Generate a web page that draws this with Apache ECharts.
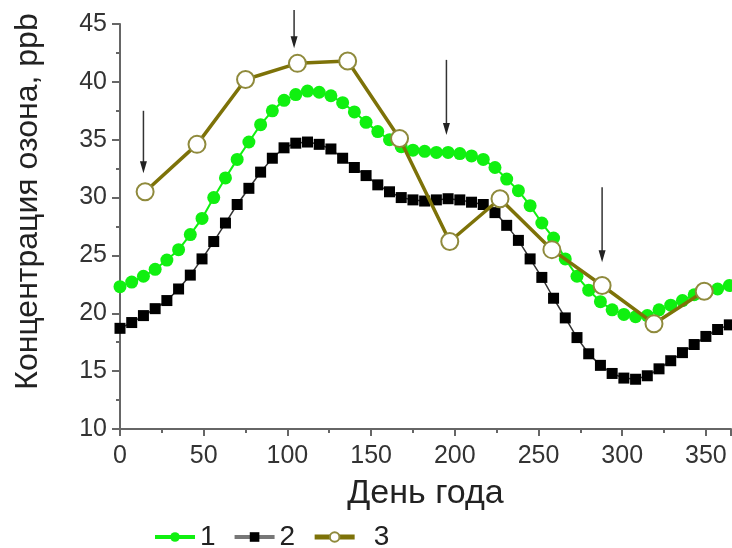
<!DOCTYPE html>
<html>
<head>
<meta charset="utf-8">
<style>html,body{margin:0;padding:0;background:#fff;}#c{width:732px;height:548px;}</style>
<script src="https://cdn.jsdelivr.net/npm/echarts@6/dist/echarts.min.js"></script>
</head>
<body>
<div id="c"></div>
<script>
const weekDays = [0,7,14,21,28,35,42,49,56,63,70,77,84,91,98,105,112,119,126,133,140,147,154,161,168,175,182,189,196,203,210,217,224,231,238,245,252,259,266,273,280,287,294,301,308,315,322,329,336,343,350,357,364];
const series1 = [22.3,22.7,23.2,23.8,24.6,25.5,26.8,28.2,30.0,31.7,33.3,34.8,36.3,37.5,38.4,38.9,39.2,39.1,38.8,38.2,37.4,36.5,35.7,35.0,34.4,34.1,34.0,33.9,33.9,33.8,33.6,33.3,32.6,31.6,30.6,29.3,27.8,26.5,24.7,23.2,22.0,21.0,20.3,19.9,19.7,19.8,20.3,20.7,21.1,21.6,21.9,22.1,22.4];
const series2 = [18.7,19.2,19.8,20.4,21.1,22.1,23.3,24.7,26.2,27.8,29.4,30.8,32.2,33.4,34.3,34.7,34.8,34.6,34.2,33.4,32.6,31.9,31.1,30.5,30.0,29.8,29.7,29.8,29.9,29.8,29.6,29.4,28.7,27.6,26.3,24.7,23.1,21.3,19.6,17.9,16.5,15.5,14.8,14.4,14.3,14.6,15.2,15.9,16.6,17.3,18.0,18.6,19.0];
const monthDays = [15,46,75,106,136,167,197,227,258,288,319,349];
const series3 = [30.5,34.6,40.2,41.6,41.8,35.1,26.2,29.9,25.5,22.4,19.1,21.9];
const arrowDays = [14,104,195,288];
const arrowTop = [37.5,46.2,41.9,30.9];
const arrowTip = [32.1,42.9,35.4,24.4];
const seriesNames = ['1','2','3'];
const xTicks = {min:0, max:365, interval:50};
const yTicks = {min:10, max:45, interval:5};

const pairs = (xs, ys) => xs.map((x, i) => [x, ys[i]]);

const font = 'Liberation Sans, Arial, sans-serif';
const chart = echarts.init(document.getElementById('c'));
chart.setOption({
  animation: false,
  backgroundColor: '#fff',
  grid: {left:120, right:1, top:24, bottom:119, containLabel:false},
  xAxis: {
    type:'value', min:xTicks.min, max:xTicks.max, interval:xTicks.interval,
    name:'День года', nameLocation:'middle', nameGap:48,
    nameTextStyle:{fontFamily:font, fontSize:34, color:'#222'},
    axisLine:{show:true, lineStyle:{color:'#666', width:2}},
    axisTick:{show:true, length:7, lineStyle:{color:'#666', width:2}},
    minorTick:{show:true, splitNumber:2, length:4, lineStyle:{color:'#666', width:2}},
    axisLabel:{fontFamily:font, fontSize:25, color:'#333', margin:15, showMaxLabel:false},
    splitLine:{show:false}
  },
  yAxis: {
    type:'value', min:yTicks.min, max:yTicks.max, interval:yTicks.interval,
    name:'Концентрация озона, ppb', nameLocation:'middle', nameGap:76, nameRotate:90,
    nameTextStyle:{fontFamily:font, fontSize:32, color:'#222', padding:[0,0,0,50]},
    axisLine:{show:true, lineStyle:{color:'#666', width:2}},
    axisTick:{show:true, length:8, lineStyle:{color:'#666', width:2}},
    minorTick:{show:true, splitNumber:2, length:4, lineStyle:{color:'#666', width:2}},
    axisLabel:{fontFamily:font, fontSize:25, color:'#333', margin:13},
    splitLine:{show:false}
  },
  legend: {
    top: 518, left: 148, itemWidth: 40, itemHeight: 12, itemGap: 17,
    textStyle:{fontFamily:font, fontSize:28, color:'#222', rich:{g:{width:14}}},
    formatter: name => name === seriesNames[2] ? '{g|}' + name : name,
    data: [
      {name:seriesNames[0], lineStyle:{width:4}},
      {name:seriesNames[1], lineStyle:{color:'#777', width:4}, itemStyle:{color:'#000'}},
      {name:seriesNames[2], lineStyle:{width:5}}
    ]
  },
  series: [
    {
      name:seriesNames[0], type:'line', data:pairs(weekDays, series1),
      symbol:'circle', symbolSize:13,
      itemStyle:{color:'#10f010'},
      lineStyle:{color:'#10f010', width:2}
    },
    {
      name:seriesNames[1], type:'line', data:pairs(weekDays, series2),
      symbol:'rect', symbolSize:11,
      itemStyle:{color:'#000'},
      lineStyle:{color:'#333', width:1.5}
    },
    {
      name:seriesNames[2], type:'line', data:pairs(monthDays, series3),
      symbol:'circle', symbolSize:17, clip:false,
      itemStyle:{color:'#fff', borderColor:'#8f8a3c', borderWidth:2},
      lineStyle:{color:'#7d7208', width:3.5},
      z:5
    }
  ]
});

// arrows: positioned through the chart's own scales
const arrowGraphics = [];
arrowDays.forEach((d, i) => {
  const p0 = chart.convertToPixel({gridIndex:0}, [d, arrowTop[i]]);
  const p1 = chart.convertToPixel({gridIndex:0}, [d, arrowTip[i]]);
  arrowGraphics.push({
    type:'line', silent:true, z:10,
    shape:{x1:p0[0], y1:p0[1], x2:p1[0], y2:p1[1] - 8},
    style:{stroke:'#333', lineWidth:1.5}
  });
  arrowGraphics.push({
    type:'polygon', silent:true, z:10,
    shape:{points:[[p1[0]-3.5, p1[1]-12],[p1[0]+3.5, p1[1]-12],[p1[0], p1[1]]]},
    style:{fill:'#222'}
  });
});
chart.setOption({graphic: arrowGraphics});
</script>
</body>
</html>
